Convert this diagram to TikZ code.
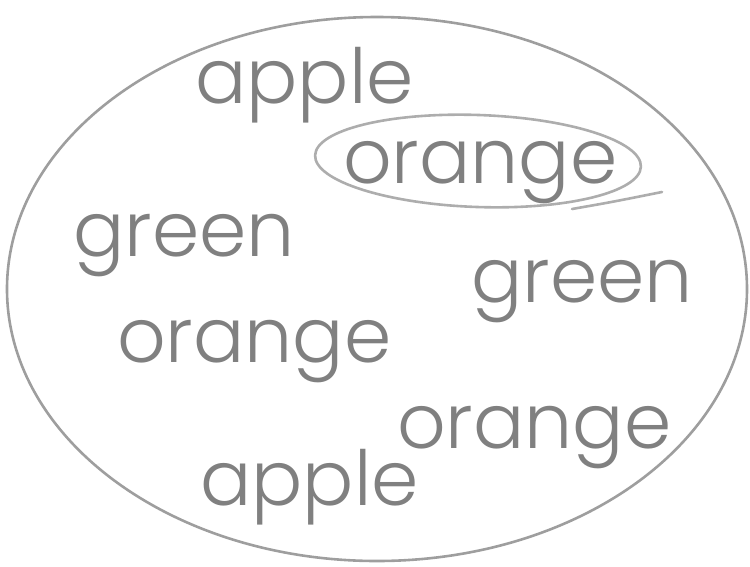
\documentclass[tikz,border=0pt]{standalone}
\usepackage{fontspec}
\setmainfont{Poppins Light}
\usepackage{xcolor}
\usepackage{tikz}

\definecolor{wordgray}{gray}{0.50}
\definecolor{rimgray}{gray}{0.62}
\definecolor{loopgray}{gray}{0.68}

\tikzset{
    word/.style={anchor=base west, inner sep=0pt, text=wordgray, font=\fontsize{76}{80}\selectfont},
    rim/.style={draw=rimgray, line width=2.6pt},
    loopline/.style={draw=loopgray, line width=2.6pt, line cap=round}
}

\begin{document}
\begin{tikzpicture}[x=1pt, y=-1pt]
        \useasboundingbox (0,0) rectangle (750,566);

        % the set
        \coordinate (bag) at (377,289);
        \draw[rim] (bag) ellipse [x radius=370, y radius=272];

        \node[word] (apple1)  at (195,103) {apple};
        \node[word] (orange1) at (343,183) {orange};
        \node[word] (green1)  at (73,256)  {green};
        \node[word] (green2)  at (471,302) {green};
        \node[word] (orange2) at (117,362) {orange};
        \node[word] (orange3) at (397,448) {orange};
        \node[word] (apple2)  at (200,505) {apple};

        % ring round the picked word
        \coordinate (pick) at (478,161);
        \coordinate (tailend) at (662,192);
        \draw[loopline, rotate around={-2:(pick)}] (pick) ellipse [x radius=163, y radius=46];
        \draw[loopline] (572,209) .. controls (612,202) .. (tailend);
\end{tikzpicture}
\end{document}
